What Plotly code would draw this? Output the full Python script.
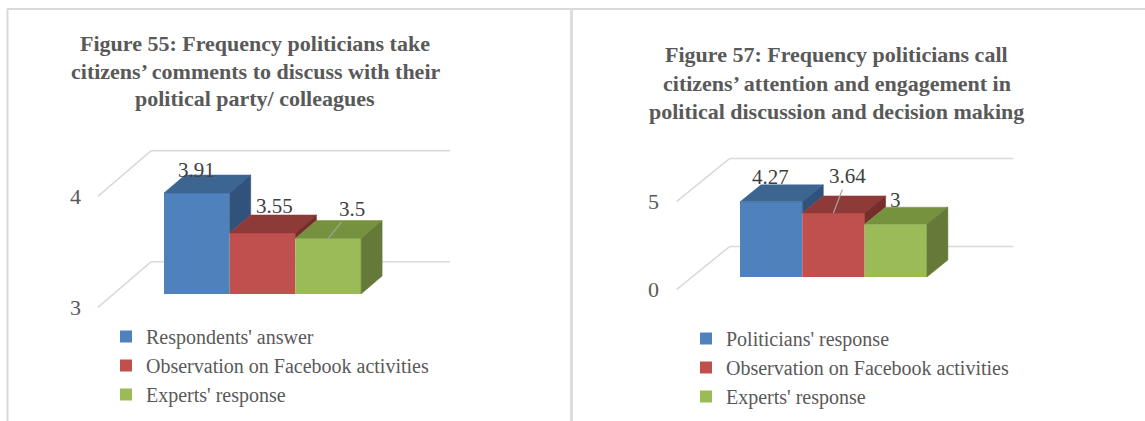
import plotly.graph_objects as go

FIG_W, FIG_H = 1145, 421
SERIF = "Liberation Serif"

# ---- Figure 55 -----------------------------------------------------------
f55_title = [
    "Figure 55: Frequency politicians take",
    "citizens’ comments to discuss with their",
    "political party/ colleagues",
]
f55_series = ["Respondents' answer", "Observation on Facebook activities", "Experts' response"]
f55_values = [3.91, 3.55, 3.5]
f55_ticks = [3, 4]

# ---- Figure 57 -----------------------------------------------------------
f57_title = [
    "Figure 57: Frequency politicians call",
    "citizens’ attention and engagement in",
    "political discussion and decision making",
]
f57_series = ["Politicians' response", "Observation on Facebook activities", "Experts' response"]
f57_values = [4.27, 3.64, 3]
f57_ticks = [0, 5]

# Face colours for the pseudo-3D columns (front / top / right side)
FRONT = ["#4F81BD", "#C0504D", "#9BBB59"]
TOP = ["#3D6592", "#8E3A38", "#77923F"]
SIDE = ["#30527B", "#772D2B", "#657A39"]
GRID = "#D9D9D9"
TEXT = "#595959"
LABEL = "#404040"

# Oblique-projection walls, in category units / bar-depth units
WALL_X, GRID_END_X = -0.77, 3.78
D_FRONT, D_BACK = -0.74, 1.8


def paper_y(px):
    return 1 - px / FIG_H


def paper_x(px):
    return px / FIG_W


panels = [
    dict(
        title=f55_title, series=f55_series, values=f55_values, ticks=f55_ticks,
        ax="x", ay="y", legend="legend",
        xdomain=[paper_x(65.45), paper_x(492.5)], ydomain=[paper_y(321.75), paper_y(138.6)],
        xrange=[-1.5, 5.0], yrange=[2.75, 4.4], depth=(0.32, 0.162),
        title_x=255, title_lines_y=[43, 71, 98],
        legend_pos=(106, 317),
        # (xshift, yshift, leader) for each value label
        label_style=[(0, 23, False), (12, 27, False), (24, -30, True)],
    ),
    dict(
        title=f57_title, series=f57_series, values=f57_values, ticks=f57_ticks,
        ax="x2", ay="y2", legend="legend2",
        xdomain=[paper_x(646.55), paper_x(1051.5)], ydomain=[paper_y(324.5), paper_y(136.2)],
        xrange=[-1.5, 5.0], yrange=[-2.7, 8.0], depth=(0.337, 0.966),
        title_x=837, title_lines_y=[55, 83, 111],
        legend_pos=(686, 319),
        label_style=[(-1, 25, False), (14, -37, True), (0, 24, False)],
    ),
]

fig = go.Figure()
shapes, annotations = [], []

for p in panels:
    base = min(p["ticks"])
    dx, dy = p["depth"]
    vals = p["values"]
    n = len(vals)
    xa, ya = p["ax"], p["ay"]

    for i, (name, v) in enumerate(zip(p["series"], vals)):
        # front face
        fig.add_trace(go.Bar(
            x=[i + 0.5], y=[v - base], base=[base], width=[1],
            name=name, marker=dict(color=FRONT[i], line=dict(width=0)),
            xaxis=xa, yaxis=ya, legend=p["legend"], hoverinfo="skip",
        ))
        # top face
        fig.add_trace(go.Scatter(
            x=[i, i + 1, i + 1 + dx, i + dx, i],
            y=[v, v, v + dy, v + dy, v],
            fill="toself", fillcolor=TOP[i], mode="lines",
            line=dict(color=TOP[i], width=0.5),
            xaxis=xa, yaxis=ya, showlegend=False, hoverinfo="skip",
        ))
        # right side face, only the part not hidden by the next column
        low = base if i == n - 1 else max(vals[i + 1], base)
        if v > low:
            fig.add_trace(go.Scatter(
                x=[i + 1, i + 1 + dx, i + 1 + dx, i + 1, i + 1],
                y=[low, low + dy, v + dy, v, low],
                fill="toself", fillcolor=SIDE[i], mode="lines",
                line=dict(color=SIDE[i], width=0.5),
                xaxis=xa, yaxis=ya, showlegend=False, hoverinfo="skip",
            ))

    # gridlines on the back wall and the side wall
    for t in p["ticks"]:
        bx, by = WALL_X + D_BACK * dx, t + D_BACK * dy
        fx, fy = WALL_X + D_FRONT * dx, t + D_FRONT * dy
        shapes.append(dict(type="line", xref=xa, yref=ya, x0=bx, y0=by,
                           x1=GRID_END_X + D_BACK * dx, y1=by,
                           line=dict(color=GRID, width=1.5), layer="below"))
        shapes.append(dict(type="line", xref=xa, yref=ya, x0=fx, y0=fy, x1=bx, y1=by,
                           line=dict(color=GRID, width=1.5), layer="below"))
        annotations.append(dict(xref=xa, yref=ya, x=fx, y=fy, text=str(t),
                                showarrow=False, xanchor="right", yanchor="middle",
                                xshift=-15, font=dict(family=SERIF, size=22, color=TEXT)))

    # value labels
    for i, v in enumerate(vals):
        sx, sy, leader = p["label_style"][i]
        ann = dict(xref=xa, yref=ya, x=i + 0.5, y=v, text=f"{v:g}",
                   font=dict(family=SERIF, size=21, color=LABEL))
        if leader:
            ann.update(showarrow=True, ax=sx, ay=sy, arrowhead=0, arrowwidth=1.2,
                       arrowcolor="#A6A6A6", standoff=0)
        else:
            ann.update(showarrow=False, xshift=sx, yshift=sy)
        annotations.append(ann)

    # title
    for line, ly in zip(p["title"], p["title_lines_y"]):
        annotations.append(dict(xref="paper", yref="paper", x=paper_x(p["title_x"]),
                                y=paper_y(ly), text=f"<b>{line}</b>", showarrow=False,
                                xanchor="center", yanchor="middle",
                                font=dict(family=SERIF, size=22, color=TEXT)))

# chart-area frames
frame = dict(color="#D9D9D9", width=2)
shapes += [
    dict(type="line", xref="paper", yref="paper", x0=paper_x(7), x1=1,
         y0=paper_y(9), y1=paper_y(9), line=frame),
    dict(type="line", xref="paper", yref="paper", x0=paper_x(7.5), x1=paper_x(7.5),
         y0=paper_y(9), y1=0, line=frame),
    dict(type="line", xref="paper", yref="paper", x0=paper_x(571.5), x1=paper_x(571.5),
         y0=paper_y(9), y1=0, line=dict(color="#DCDCDC", width=3)),
]

legend_common = dict(xanchor="left", yanchor="top", bgcolor="rgba(0,0,0,0)",
                     font=dict(family=SERIF, size=20, color=TEXT), traceorder="normal",
                     itemclick=False, itemdoubleclick=False)

layout = dict(
    width=FIG_W, height=FIG_H, margin=dict(l=0, r=0, t=0, b=0),
    paper_bgcolor="white", plot_bgcolor="white", barmode="overlay",
    shapes=shapes, annotations=annotations,
    legend=dict(x=paper_x(panels[0]["legend_pos"][0]), y=paper_y(panels[0]["legend_pos"][1]),
                **legend_common),
    legend2=dict(x=paper_x(panels[1]["legend_pos"][0]), y=paper_y(panels[1]["legend_pos"][1]),
                 **legend_common),
)
for p in panels:
    xk = "xaxis" if p["ax"] == "x" else "xaxis2"
    yk = "yaxis" if p["ay"] == "y" else "yaxis2"
    layout[xk] = dict(domain=p["xdomain"], range=p["xrange"], visible=False,
                      fixedrange=True, anchor=p["ay"])
    layout[yk] = dict(domain=p["ydomain"], range=p["yrange"], visible=False,
                      fixedrange=True, anchor=p["ax"])

fig.update_layout(**layout)
fig.write_html("out.html")
